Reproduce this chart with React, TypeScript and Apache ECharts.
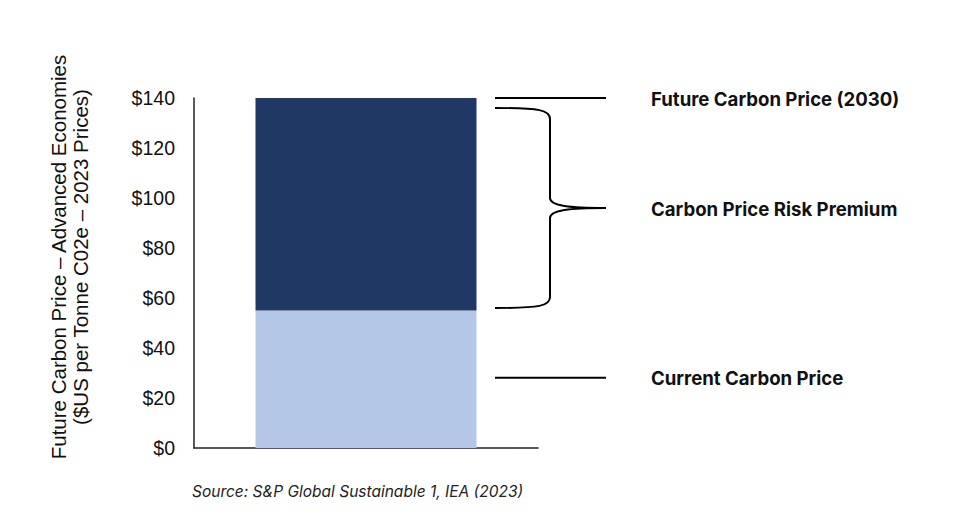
import React, { useEffect, useRef } from "react";
import * as echarts from "echarts";

const categories = ["Advanced Economies"];
const currentPrice = [55];
const riskPremium = [85];
const yTicks = { min: 0, max: 140, interval: 20 };
const annotationLabels = ["Future Carbon Price (2030)", "Carbon Price Risk Premium", "Current Carbon Price"];
const braceRange = [56, 136];
const axisTitle = ["Future Carbon Price \u2013 Advanced Economies", "($US per Tonne C02e \u2013 2023 Prices)"];
const sourceText = "Source: S&P Global Sustainable 1, IEA (2023)";

const DARK = "#203864";
const LIGHT = "#B4C7E7";

export default function App() {
  const ref = useRef<HTMLDivElement>(null);
  useEffect(() => {
    document.body.style.margin = "0";
    const chart = echarts.init(ref.current!, undefined, { renderer: "svg" });
    chart.setOption({
      animation: false,
      grid: { left: 194, right: 433, top: 98, bottom: 66 },
      xAxis: {
        type: "category",
        data: categories,
        axisLine: { lineStyle: { color: "#222", width: 1.5 } },
        axisTick: { show: false },
        axisLabel: { show: false },
      },
      yAxis: {
        type: "value",
        min: yTicks.min,
        max: yTicks.max,
        interval: yTicks.interval,
        splitLine: { show: false },
        axisLine: { show: true, lineStyle: { color: "#222", width: 1.5 } },
        axisTick: { show: false },
        axisLabel: {
          formatter: (v: number) => "$" + v,
          fontFamily: "Liberation Sans, Arial, sans-serif",
          fontSize: 19.5,
          color: "#111",
          margin: 19,
        },
      },
      series: [
        { type: "bar", stack: "a", data: currentPrice, barWidth: 221, itemStyle: { color: LIGHT } },
        { type: "bar", stack: "a", data: riskPremium, barWidth: 221, itemStyle: { color: DARK } },
      ],
    });

    const py = (v: number) => chart.convertToPixel({ yAxisIndex: 0 }, v) as number;
    const total = currentPrice[0] + riskPremium[0];
    const yFuture = py(total);
    const yCurrent = py(currentPrice[0] / 2);
    const yTop = py(braceRange[1]);
    const yBot = py(braceRange[0]);
    const yMid = (yTop + yBot) / 2;
    const x0 = 495, xv = 550, xTip = 606, xText = 651;
    const lineStyle = { stroke: "#000", lineWidth: 2, fill: null };
    const labelStyle = (text: string, y: number) => ({
      type: "text",
      x: xText,
      y: y + 1,
      style: {
        text,
        fontFamily: "Inter, Liberation Sans, sans-serif",
        fontWeight: 700,
        fontSize: 18.6,
        fill: "#111",
        verticalAlign: "middle",
        textAlign: "left",
      },
    });

    chart.setOption({
      graphic: [
        { type: "line", shape: { x1: x0, y1: yFuture, x2: xTip, y2: yFuture }, style: lineStyle },
        { type: "line", shape: { x1: x0, y1: yCurrent - 1.5, x2: xTip, y2: yCurrent - 1.5 }, style: lineStyle },
        { type: "bezierCurve", shape: { x1: x0, y1: yTop, cpx1: x0 + 45, cpy1: yTop, cpx2: xv, cpy2: yTop + 2, x2: xv, y2: yTop + 11 }, style: lineStyle },
        { type: "line", shape: { x1: xv, y1: yTop + 11, x2: xv, y2: yMid - 10 }, style: lineStyle },
        { type: "bezierCurve", shape: { x1: xv, y1: yMid - 10, cpx1: xv, cpy1: yMid - 2, cpx2: xv + 20, cpy2: yMid, x2: xTip, y2: yMid }, style: lineStyle },
        { type: "bezierCurve", shape: { x1: xv, y1: yMid + 10, cpx1: xv, cpy1: yMid + 2, cpx2: xv + 20, cpy2: yMid, x2: xTip, y2: yMid }, style: lineStyle },
        { type: "line", shape: { x1: xv, y1: yMid + 10, x2: xv, y2: yBot - 11 }, style: lineStyle },
        { type: "bezierCurve", shape: { x1: x0, y1: yBot, cpx1: x0 + 45, cpy1: yBot, cpx2: xv, cpy2: yBot - 2, x2: xv, y2: yBot - 11 }, style: lineStyle },
        labelStyle(annotationLabels[0], yFuture),
        labelStyle(annotationLabels[1], yMid),
        labelStyle(annotationLabels[2], yCurrent - 2),
        {
          type: "text",
          x: 69,
          y: 257,
          rotation: Math.PI / 2,
          style: {
            text: axisTitle.join("\n"),
            fontFamily: "Liberation Sans, Arial, sans-serif",
            fontSize: 20.5,
            lineHeight: 22,
            fill: "#111",
            textAlign: "center",
            verticalAlign: "middle",
          },
        },
        {
          type: "text",
          x: 192,
          y: 491,
          style: {
            text: sourceText,
            fontFamily: "Inter, Liberation Sans, sans-serif",
            fontStyle: "italic",
            fontSize: 15.5,
            fill: "#222",
            verticalAlign: "middle",
          },
        },
      ],
    });
    return () => chart.dispose();
  }, []);
  return <div ref={ref} style={{ width: 971, height: 514 }} />;
}
